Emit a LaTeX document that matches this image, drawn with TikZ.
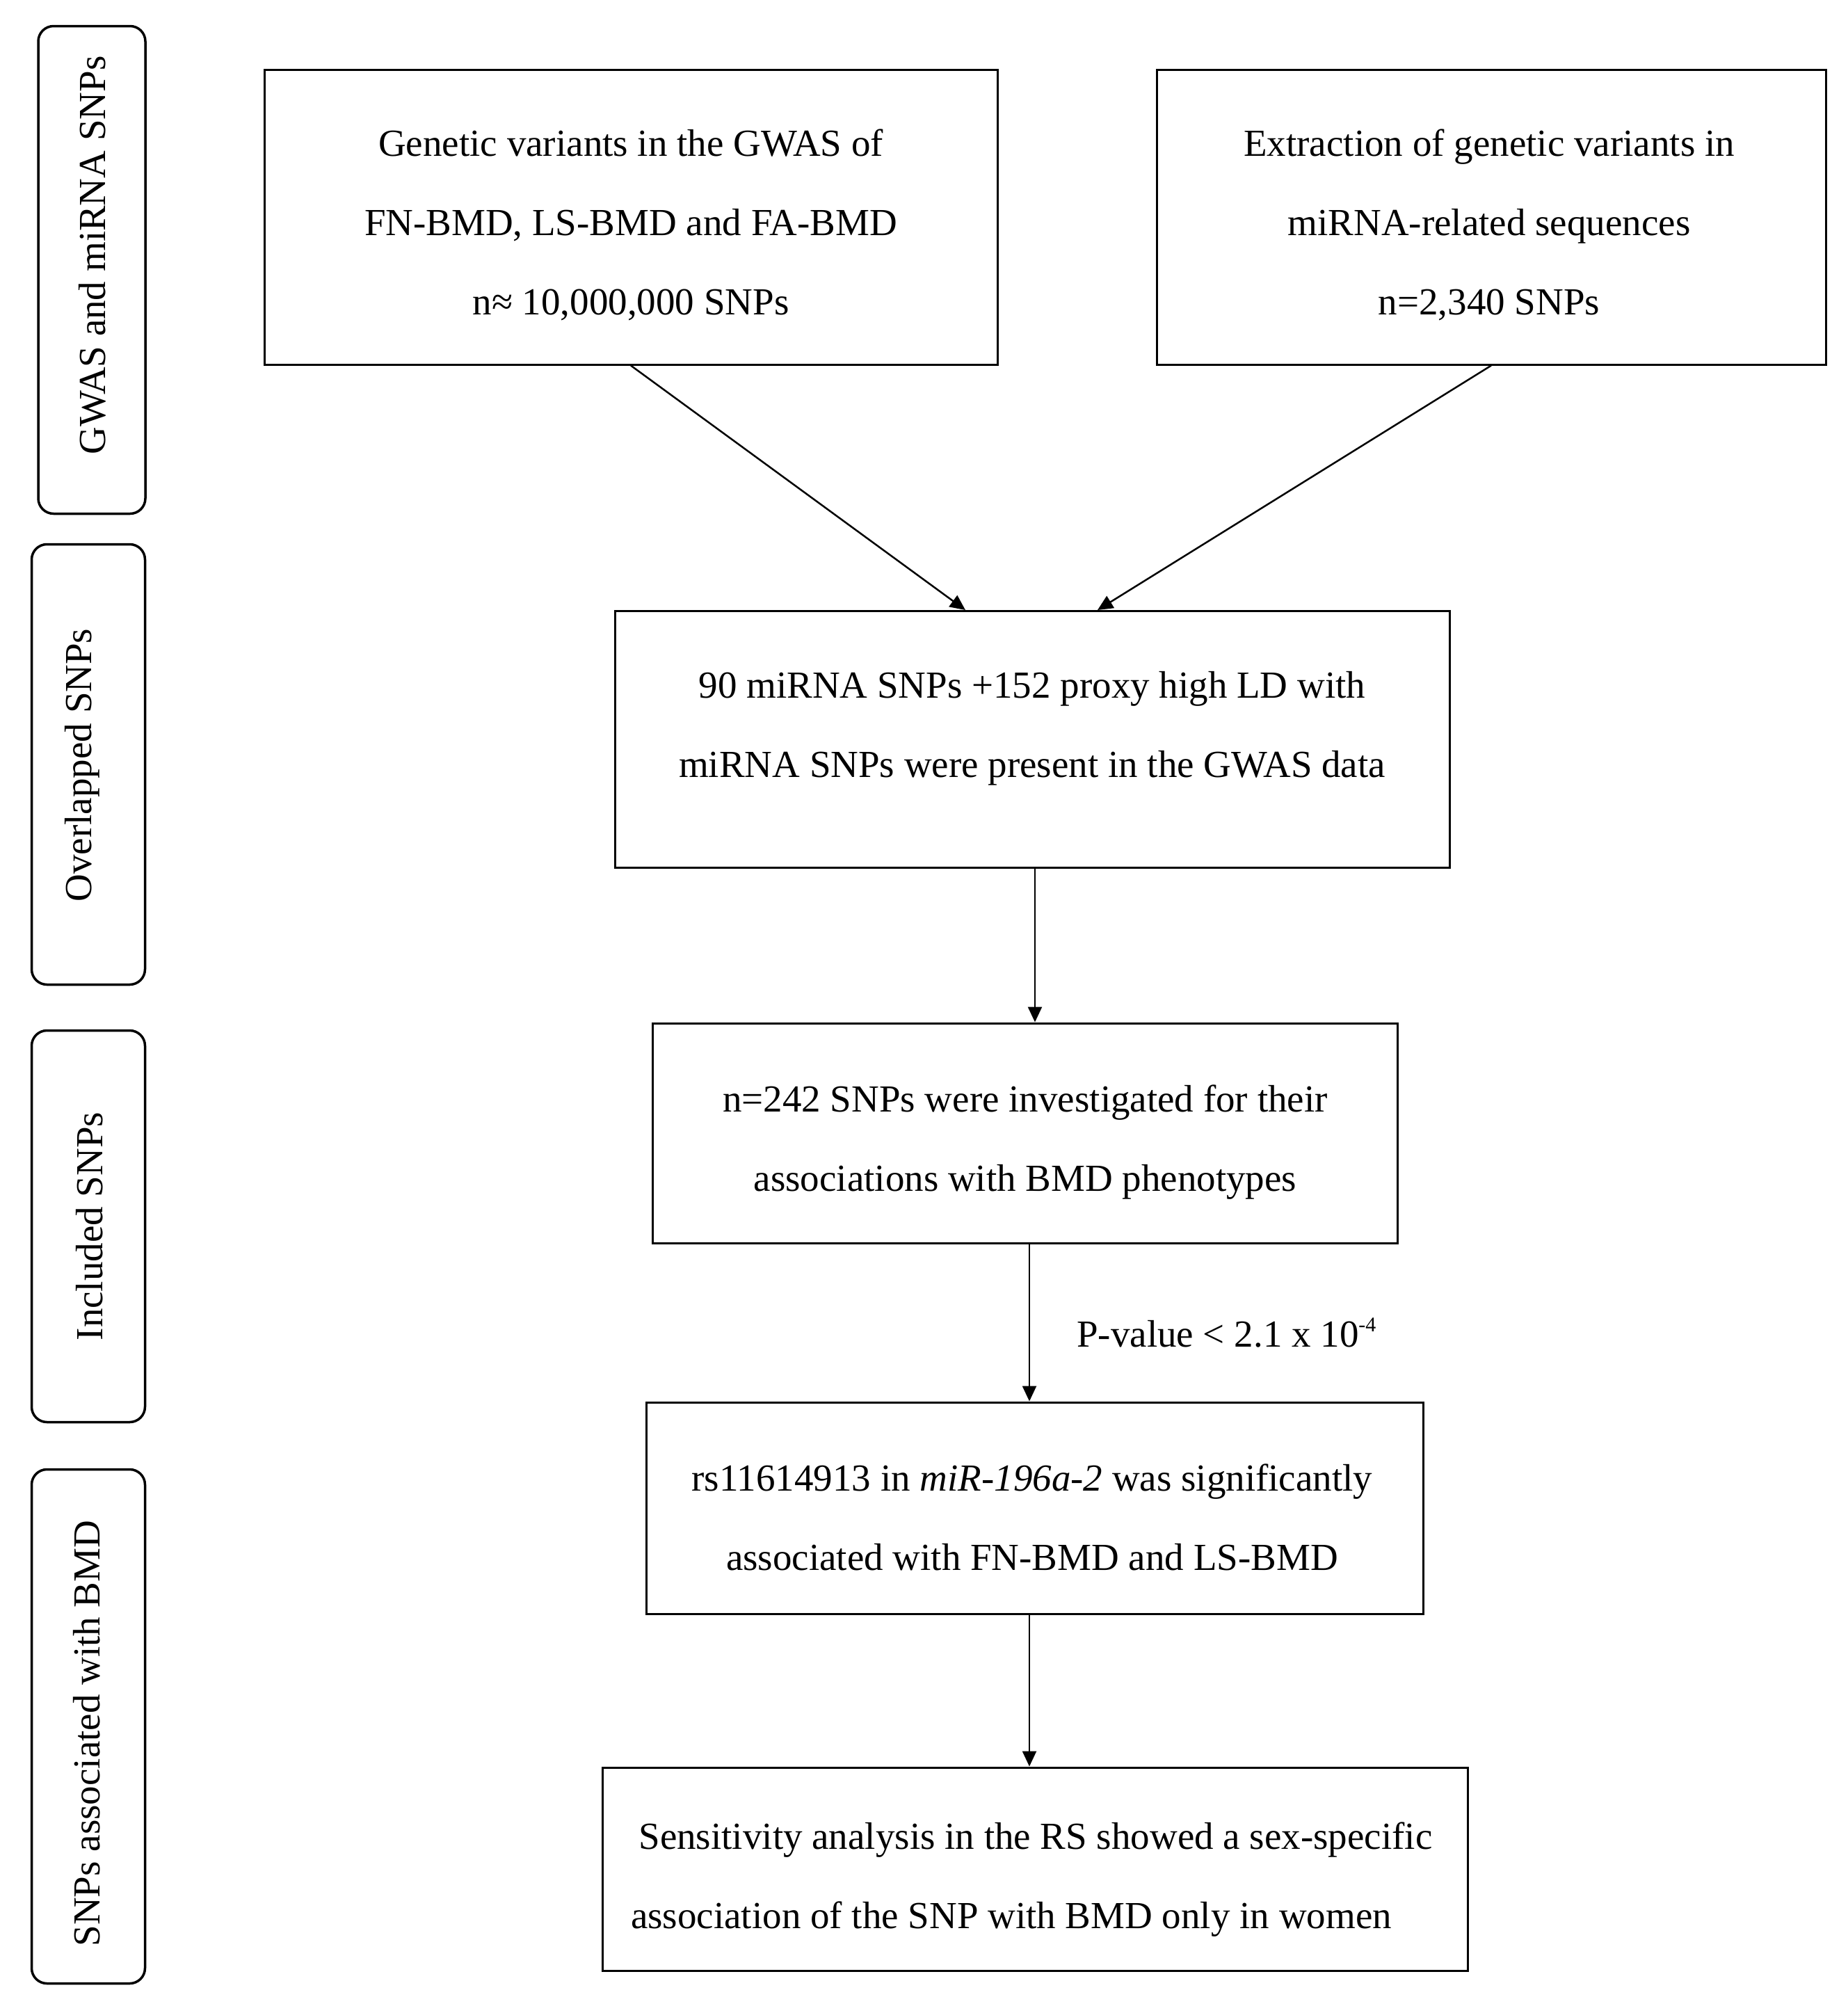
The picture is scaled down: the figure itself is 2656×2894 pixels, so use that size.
\documentclass[tikz,border=0pt]{standalone}
\usepackage{fontspec}
\setmainfont{Liberation Serif}
\usetikzlibrary{arrows.meta}
\begin{document}
\begin{tikzpicture}[x=1pt,y=-1pt,
  box/.style={draw, line width=3pt, inner sep=0pt},
  txt/.style={align=center, inner sep=0pt, font=\fontsize{55}{114}\selectfont},
  side/.style={draw, line width=3.5pt, rounded corners=22pt, inner sep=0pt},
  sidelabel/.style={rotate=90, inner sep=0pt, font=\fontsize{55}{66}\selectfont},
  arr/.style={line width=2.5pt, -{Triangle[length=22pt,width=20pt]}}]
\useasboundingbox (0,0) rectangle (2656,2894);
% side boxes
\node[side, minimum width=154pt, minimum height=701pt] (s1) at (132,388) {};
\node[sidelabel] (l1) at (133,367) {GWAS and miRNA SNPs};
\node[side, minimum width=163pt, minimum height=633pt] (s2) at (127,1099) {};
\node[sidelabel] (l2) at (118,1100) {Overlapped SNPs};
\node[side, minimum width=163pt, minimum height=563pt] (s3) at (127,1763) {};
\node[sidelabel] (l3) at (129,1763) {Included SNPs};
\node[side, minimum width=163pt, minimum height=739pt] (s4) at (127,2482) {};
\node[sidelabel] (l4) at (125,2492) {SNPs associated with BMD};
% main boxes
\node[box, minimum width=1054pt, minimum height=424pt] (A) at (907,312) {};
\node[txt] (At) at (907,323)
  {Genetic variants in the GWAS of\\FN-BMD, LS-BMD and FA-BMD\\n≈ 10,000,000 SNPs};
\node[box, minimum width=962pt, minimum height=424pt] (B) at (2144,312) {};
\node[txt] (Bt) at (2141,323)
  {Extraction of genetic variants in\\miRNA-related sequences\\n=2,340 SNPs};
\node[box, minimum width=1200pt, minimum height=369pt] (C) at (1484,1063) {};
\node[txt] (Ct) at (1484,1047)
  {90 miRNA SNPs +152 proxy high LD with\\miRNA SNPs were present in the GWAS data};
\node[box, minimum width=1071pt, minimum height=316pt] (D) at (1474,1629) {};
\node[txt] (Dt) at (1474,1642)
  {n=242 SNPs were investigated for their\\associations with BMD phenotypes};
\node[box, minimum width=1117pt, minimum height=304pt] (E) at (1488,2168) {};
\node[txt] (Et) at (1484,2181)
  {rs11614913 in \textit{miR-196a-2} was significantly\\associated with FN-BMD and LS-BMD};
\node[box, minimum width=1244pt, minimum height=292pt] (F) at (1488,2687) {};
\node[txt] (Ft) at (1474,2702)
  {\hspace*{30pt}Sensitivity analysis in the RS showed a sex-specific\\association of the SNP with BMD only in women\hspace*{40pt}};
% label
\node[anchor=base west, inner sep=0pt, font=\fontsize{55}{66}\selectfont] (pv) at (1548,1936)
  {P-value < 2.1 x 10\raisebox{22pt}{\fontsize{30}{36}\selectfont -4}};
% connectors
\coordinate (ax1) at (1488,0);
\coordinate (ax2) at (1480,0);
\draw[arr] (A.south) -- ([xshift=-96pt]C.north);
\draw[arr] (B.south) -- ([xshift=94pt]C.north);
\draw[arr] (C.south -| ax1) -- (D.north -| ax1);
\draw[arr] (D.south -| ax2) -- (E.north -| ax2);
\draw[arr] (E.south -| ax2) -- (F.north -| ax2);
\end{tikzpicture}
\end{document}
